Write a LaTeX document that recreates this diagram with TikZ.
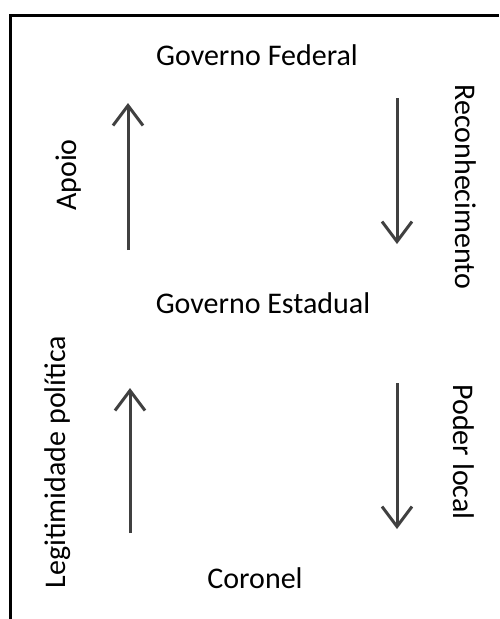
\documentclass[tikz,border=0pt]{standalone}
\usepackage{fontspec}
\setmainfont{Carlito}
\usetikzlibrary{arrows.meta}
\tikzset{
  lbl/.style={font=\fontsize{30}{36}\selectfont, inner sep=0pt, text=black},
  flow/.style={line width=3pt, draw=black!75, -{Straight Barb[length=20pt,width=30pt,line width=3pt]}},
  frame/.style={line width=3pt, draw=black}
}
\begin{document}
\begin{tikzpicture}[x=1pt,y=-1pt]
\useasboundingbox (0,0) rectangle (499,619);
\draw[frame] (10.5,619) -- (10.5,15) -- (499,15);
\node[lbl, anchor=base] (fed) at (257,65) {Governo Federal};
\node[lbl, anchor=base] (est) at (263,313) {Governo Estadual};
\node[lbl, anchor=base] (cor) at (255,588) {Coronel};
\node[lbl, rotate=90] (apoio) at (69,175) {Apoio};
\node[lbl, rotate=-90] (recon) at (466,187) {Reconhecimento};
\node[lbl, rotate=90] (legit) at (58,462) {Legitimidade política};
\node[lbl, rotate=-90] (poder) at (464,452) {Poder local};
\coordinate (a1s) at (128,250);
\coordinate (a1e) at (128,103);
\coordinate (a2s) at (397,98);
\coordinate (a2e) at (397,244);
\coordinate (a3s) at (130,533);
\coordinate (a3e) at (130,388);
\coordinate (a4s) at (397,383);
\coordinate (a4e) at (397,529);
\draw[flow] (a1s) -- (a1e);
\draw[flow] (a2s) -- (a2e);
\draw[flow] (a3s) -- (a3e);
\draw[flow] (a4s) -- (a4e);
\end{tikzpicture}
\end{document}
